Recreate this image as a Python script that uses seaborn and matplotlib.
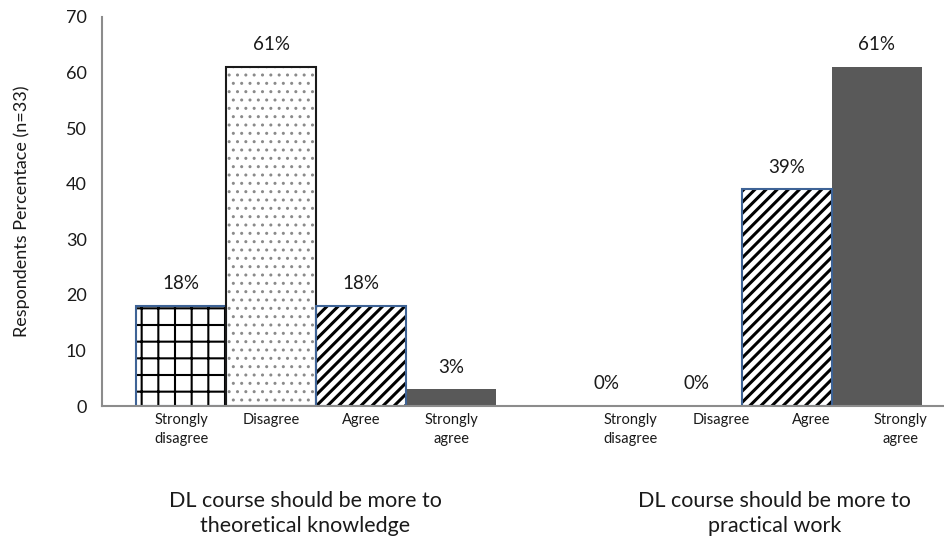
"""Respondents' view on DL course focus: grouped Likert bars with hatch fills."""

import matplotlib.pyplot as plt
import numpy as np
import pandas as pd
import seaborn as sns

# ── data ───────────────────────────────────────────────────────────────
categories = ["Strongly\ndisagree", "Disagree", "Agree", "Strongly\nagree"]
groups = ["DL course should be more to\ntheoretical knowledge",
          "DL course should be more to\npractical work"]
theoretical_pct = [18, 61, 18, 3]
practical_pct = [0, 0, 39, 61]
value_labels = ["18%", "61%", "18%", "3%", "0%", "0%", "39%", "61%"]
y_ticks = [0, 10, 20, 30, 40, 50, 60, 70]

# ── layout / style ─────────────────────────────────────────────────────
group_gap = 4.73           # offset of second group in bar widths
label_shift = [0.0, 0.27]  # tick label nudge per group (as in original)
group_label_shift = [-0.12, 0.1]

hatches = ["+", "..", "///", ""]
hatch_colors = ["black", "#8A8A8A", "black", "#595959"]
face_colors = ["white", "white", "white", "#595959"]
edge_colors = ["#3E6396", "#1A1A1A", "#3E6396", "none"]

sns.set_theme(style="white")
plt.rcParams["font.family"] = ["Lato", "DejaVu Sans"]
plt.rcParams["hatch.linewidth"] = 1.6

rows = []
for g, vals in enumerate([theoretical_pct, practical_pct]):
    for i, v in enumerate(vals):
        rows.append({"pos": g * group_gap + i, "pct": v, "cat": i, "group": g})
df = pd.DataFrame(rows)

fig = plt.figure(figsize=(9.44, 5.43), dpi=100)
ax = fig.add_axes([0.108, 0.252, 0.892, 0.717])

# hatch layer
sns.barplot(data=df, x="pos", y="pct", native_scale=True, width=1.0,
            color="white", linewidth=0, ax=ax, errorbar=None)
for patch, (_, r) in zip(ax.patches, df.iterrows()):
    c = int(r["cat"])
    patch.set_facecolor(face_colors[c])
    patch.set_edgecolor(hatch_colors[c])
    patch.set_hatch(hatches[c])
    patch.set_linewidth(0)
    if hasattr(patch, "set_hatch_linewidth"):
        patch.set_hatch_linewidth({0: 1.5, 1: 1.0, 2: 2.2, 3: 1.0}[c])
n_fill = len(ax.patches)

# outline layer
sns.barplot(data=df, x="pos", y="pct", native_scale=True, width=1.0,
            fill=False, linewidth=1.5, ax=ax, errorbar=None)
for patch, (_, r) in zip(ax.patches[n_fill:], df.iterrows()):
    c = int(r["cat"])
    patch.set_edgecolor(edge_colors[c])
    if r["pct"] == 0:
        patch.set_visible(False)

# value labels
for (_, r), txt in zip(df.iterrows(), value_labels):
    ax.annotate(txt, (r["pos"], r["pct"]), xytext=(0, 16),
                textcoords="offset points", ha="center", va="center",
                fontsize=13.5, color="#1A1A1A")

# category tick labels
tick_pos = df["pos"].to_numpy() + np.array([label_shift[g] for g in df["group"]])
ax.set_xticks(tick_pos)
ax.set_xticklabels(categories * 2, fontsize=10.5, color="#1A1A1A", linespacing=1.45)
ax.tick_params(axis="x", length=0, pad=5)

# group labels
for g, name in enumerate(groups):
    gx = tick_pos[df["group"] == g].mean() + group_label_shift[g]
    ax.text(gx, -0.218, name, transform=ax.get_xaxis_transform(),
            ha="center", va="top", fontsize=15.5, color="#1A1A1A",
            linespacing=1.3)

ax.set_xlim(-0.88, 8.48)
ax.set_ylim(0, 70)
ax.set_yticks(y_ticks)
ax.tick_params(axis="y", length=0, pad=11, labelsize=13, labelcolor="#1A1A1A")
ax.set_xlabel("")
ax.set_ylabel("Respondents Percentace (n=33)", fontsize=13, color="#1A1A1A",
              labelpad=26)

for side in ["top", "right"]:
    ax.spines[side].set_visible(False)
for side in ["left", "bottom"]:
    ax.spines[side].set_color("#8C8C8C")
    ax.spines[side].set_linewidth(1.5)

fig.savefig("out.png", dpi=100)
